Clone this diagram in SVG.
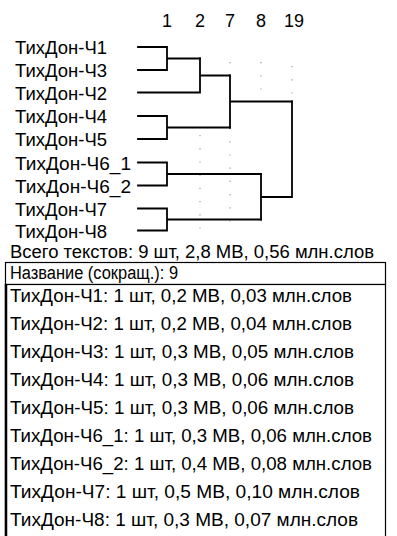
<svg xmlns="http://www.w3.org/2000/svg" width="397" height="536" viewBox="0 0 397 536">
<style>
text{font-family:"Liberation Sans",Arial,sans-serif;font-size:18px;fill:#000}
.num{text-anchor:middle}
.ln{stroke:#000;stroke-width:1.8;fill:none;stroke-linecap:square}
.grid{stroke:#999;stroke-width:1.2;stroke-dasharray:1.2 12;fill:none}
.box{fill:#fff;stroke:#000;stroke-width:1.2}
</style>
<rect width="397" height="536" fill="#fff"/>
<g id="axis">
<text class="num" x="167" y="27">1</text>
<text class="num" x="200" y="27">2</text>
<text class="num" x="230" y="27">7</text>
<text class="num" x="261" y="27">8</text>
<text class="num" x="294" y="27">19</text>
</g>
<g id="grid">
<path class="grid" d="M200 135V230M230 62V230M261 62V100M292 66V100"/>
</g>
<g id="leaf-c1"><text x="15" y="54" textLength="92" lengthAdjust="spacingAndGlyphs">ТихДон-Ч1</text></g>
<g id="leaf-c3"><text x="15" y="77" textLength="92" lengthAdjust="spacingAndGlyphs">ТихДон-Ч3</text></g>
<g id="leaf-c2"><text x="15" y="99.5" textLength="92" lengthAdjust="spacingAndGlyphs">ТихДон-Ч2</text></g>
<g id="leaf-c4"><text x="15" y="123" textLength="92" lengthAdjust="spacingAndGlyphs">ТихДон-Ч4</text></g>
<g id="leaf-c5"><text x="15" y="146" textLength="92" lengthAdjust="spacingAndGlyphs">ТихДон-Ч5</text></g>
<g id="leaf-c6_1"><text x="15" y="169.5" textLength="116" lengthAdjust="spacingAndGlyphs">ТихДон-Ч6_1</text></g>
<g id="leaf-c6_2"><text x="15" y="192.5" textLength="116" lengthAdjust="spacingAndGlyphs">ТихДон-Ч6_2</text></g>
<g id="leaf-c7"><text x="15" y="215.5" textLength="92" lengthAdjust="spacingAndGlyphs">ТихДон-Ч7</text></g>
<g id="leaf-c8"><text x="15" y="237.5" textLength="92" lengthAdjust="spacingAndGlyphs">ТихДон-Ч8</text></g>
<g id="connectors">
<path class="ln" d="M138 47H167V70H138M167 58.5H200"/>
<path class="ln" d="M138 92.5H200V58.5M200 75.5H230"/>
<path class="ln" d="M138 116H167V139H138M167 127.5H230"/>
<path class="ln" d="M230 75.5V127.5M230 101.5H292"/>
<path class="ln" d="M138 162.5H167V185.5H138M167 174H261"/>
<path class="ln" d="M138 208.5H167V230.5H138M167 219.5H261"/>
<path class="ln" d="M261 174V219.5M261 197H292V101.5"/>
</g>
<g id="summary">
<text x="10" y="258" textLength="364" lengthAdjust="spacingAndGlyphs">Всего текстов: 9 шт, 2,8 МВ, 0,56 млн.слов</text>
</g>
<g id="header">
<rect class="box" x="5.5" y="262.5" width="380" height="22"/>
<text x="10" y="279" textLength="168" lengthAdjust="spacingAndGlyphs">Название (сокращ.): 9</text>
</g>
<g id="list">
<rect class="box" x="5.5" y="284.5" width="380" height="260"/>
<line x1="6" y1="284" x2="6" y2="536" stroke="#000" stroke-width="2.5"/>
<text x="10" y="302" textLength="342" lengthAdjust="spacingAndGlyphs">ТихДон-Ч1: 1 шт, 0,2 МВ, 0,03 млн.слов</text>
<text x="10" y="330" textLength="342" lengthAdjust="spacingAndGlyphs">ТихДон-Ч2: 1 шт, 0,2 МВ, 0,04 млн.слов</text>
<text x="10" y="358" textLength="344" lengthAdjust="spacingAndGlyphs">ТихДон-Ч3: 1 шт, 0,3 МВ, 0,05 млн.слов</text>
<text x="10" y="386" textLength="344" lengthAdjust="spacingAndGlyphs">ТихДон-Ч4: 1 шт, 0,3 МВ, 0,06 млн.слов</text>
<text x="10" y="414" textLength="344" lengthAdjust="spacingAndGlyphs">ТихДон-Ч5: 1 шт, 0,3 МВ, 0,06 млн.слов</text>
<text x="10" y="442" textLength="362" lengthAdjust="spacingAndGlyphs">ТихДон-Ч6_1: 1 шт, 0,3 МВ, 0,06 млн.слов</text>
<text x="10" y="470" textLength="362" lengthAdjust="spacingAndGlyphs">ТихДон-Ч6_2: 1 шт, 0,4 МВ, 0,08 млн.слов</text>
<text x="10" y="498" textLength="350" lengthAdjust="spacingAndGlyphs">ТихДон-Ч7: 1 шт, 0,5 МВ, 0,10 млн.слов</text>
<text x="10" y="526" textLength="348" lengthAdjust="spacingAndGlyphs">ТихДон-Ч8: 1 шт, 0,3 МВ, 0,07 млн.слов</text>
</g>
</svg>
